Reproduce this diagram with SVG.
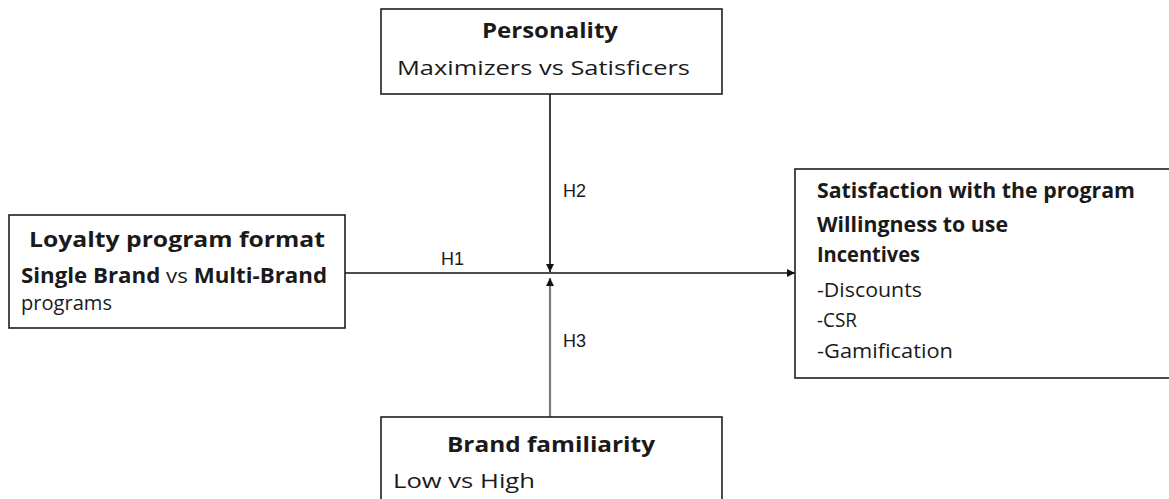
<svg xmlns="http://www.w3.org/2000/svg" width="1169" height="499" viewBox="0 0 1169 499">
<defs>
<style>
.box{fill:#fff;stroke:#1e1e1e;stroke-width:1.6}
.t{font-family:"Open Sans","Liberation Sans",sans-serif;font-size:20.5px;fill:#1a1a1a}
.b{font-weight:bold}
.h{font-family:"Liberation Sans",Arial,sans-serif;font-size:18px;fill:#1a1a1a}
.ln{stroke:#111;stroke-width:1.6;fill:none}
.gl{stroke:#7a7a7a;stroke-width:2.2;fill:none}
</style>
<marker id="ah" viewBox="0 0 10 10" refX="10" refY="5" markerWidth="9" markerHeight="8" markerUnits="userSpaceOnUse" orient="auto">
<path d="M0,0 L10,5 L0,10 z" fill="#111"/>
</marker>
</defs>
<rect width="1169" height="499" fill="#fff"/>
<g id="connectors">
<line class="ln" x1="345" y1="273" x2="795" y2="273" marker-end="url(#ah)"/>
<line class="ln" x1="550" y1="94" x2="550" y2="272" marker-end="url(#ah)"/>
<line class="gl" x1="550" y1="417" x2="550" y2="278" marker-end="url(#ah)"/>
<text class="h" x="441" y="265">H1</text>
<text class="h" x="563" y="197">H2</text>
<text class="h" x="563" y="347">H3</text>
</g>
<g id="personality">
<rect class="box" x="381" y="9" width="341" height="85"/>
<text class="t b" x="482" y="38" textLength="136" lengthAdjust="spacingAndGlyphs">Personality</text>
<text class="t" x="397" y="75" textLength="293" lengthAdjust="spacingAndGlyphs">Maximizers vs Satisficers</text>
</g>
<g id="loyalty">
<rect class="box" x="9" y="215" width="336" height="113"/>
<text class="t b" x="29" y="247" textLength="296" lengthAdjust="spacingAndGlyphs">Loyalty program format</text>
<text class="t" x="21" y="283" textLength="306" lengthAdjust="spacingAndGlyphs"><tspan class="b">Single Brand</tspan> vs <tspan class="b">Multi-Brand</tspan></text>
<text class="t" x="21" y="310" textLength="91" lengthAdjust="spacingAndGlyphs">programs</text>
</g>
<g id="outcomes">
<rect class="box" x="795" y="169" width="390" height="209"/>
<text class="t b" x="817" y="198" textLength="318" lengthAdjust="spacingAndGlyphs">Satisfaction with the program</text>
<text class="t b" x="817" y="232" textLength="191" lengthAdjust="spacingAndGlyphs">Willingness to use</text>
<text class="t b" x="817" y="262" textLength="103" lengthAdjust="spacingAndGlyphs">Incentives</text>
<text class="t" x="817" y="297" textLength="105" lengthAdjust="spacingAndGlyphs">-Discounts</text>
<text class="t" x="817" y="327" textLength="40" lengthAdjust="spacingAndGlyphs">-CSR</text>
<text class="t" x="817" y="358" textLength="136" lengthAdjust="spacingAndGlyphs">-Gamification</text>
</g>
<g id="familiarity">
<rect class="box" x="381" y="417" width="341" height="100"/>
<text class="t b" x="447" y="452" textLength="208" lengthAdjust="spacingAndGlyphs">Brand familiarity</text>
<text class="t" x="393" y="488" textLength="142" lengthAdjust="spacingAndGlyphs">Low vs High</text>
</g>
</svg>
